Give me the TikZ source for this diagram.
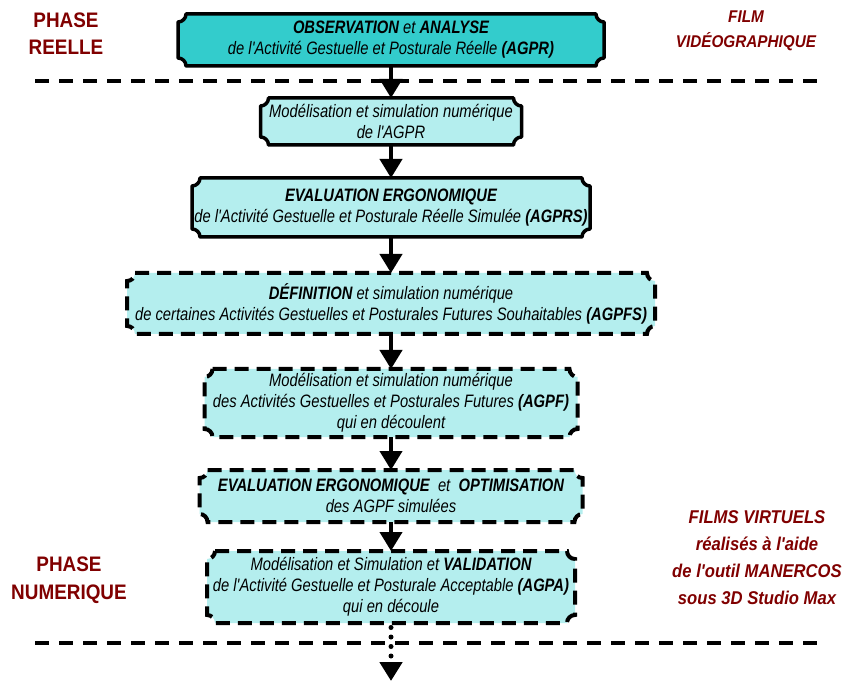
\documentclass[tikz,border=0pt]{standalone}
\usepackage{fontspec}
\setmainfont{Liberation Sans}
\newfontfamily\boxfont{Liberation Sans}[FakeStretch=0.82]
\newfontfamily\labfont{Liberation Sans}[FakeStretch=0.9]
\usetikzlibrary{arrows.meta,calc,backgrounds}
\definecolor{tealA}{HTML}{33CCCC}
\definecolor{lcyan}{HTML}{B4EEEE}
\definecolor{dred}{HTML}{800000}
\def\plr{8pt}
\newcommand\plaque[2]{%
  \draw[#2] ($(#1.north west)+(\plr,0)$) -- ($(#1.north east)+(-\plr,0)$)
    arc[start angle=180,end angle=270,radius=\plr]
    -- ($(#1.south east)+(0,\plr)$)
    arc[start angle=90,end angle=180,radius=\plr]
    -- ($(#1.south west)+(\plr,0)$)
    arc[start angle=0,end angle=90,radius=\plr]
    -- ($(#1.north west)+(0,-\plr)$)
    arc[start angle=270,end angle=360,radius=\plr] -- cycle;}
\tikzset{
  box/.style={inner sep=0pt, outer sep=0pt, align=center, text=black,
    font=\boxfont\itshape\fontsize{18}{21}\selectfont},
  solidb/.style={draw=black, line width=3.5pt, line join=round},
  dashb/.style={draw=black, line width=4pt, dash pattern=on 14pt off 8pt, fill=lcyan},
  arr/.style={line width=4pt, -{Triangle[width=22pt,length=19pt]}},
  sepline/.style={line width=3.5pt, dash pattern=on 14pt off 10pt},
  lab/.style={text=dred, align=center, inner sep=0pt},
}
\begin{document}
\begin{tikzpicture}[x=1pt,y=1pt]
\useasboundingbox (0,0) rectangle (846,681);
% boxes
\node[box, minimum width=426pt, minimum height=52pt] (b1) at (391,641)
  {\textbf{OBSERVATION} et \textbf{ANALYSE}\\ de l'Activité Gestuelle et Posturale Réelle \textbf{(AGPR)}};
\node[box, minimum width=261pt, minimum height=47pt] (b2) at (391,559.5)
  {Modélisation et simulation numérique\\ de l'AGPR};
\node[box, minimum width=398pt, minimum height=59pt] (b3) at (391,473.5)
  {\textbf{EVALUATION ERGONOMIQUE}\\ de l'Activité Gestuelle et Posturale Réelle Simulée \textbf{(AGPRS)}};
\node[box, minimum width=528pt, minimum height=61pt] (b4) at (391,377.5)
  {\textbf{DÉFINITION} et simulation numérique\\ de certaines Activités Gestuelles et Posturales Futures Souhaitables \textbf{(AGPFS)}};
\node[box, minimum width=373pt, minimum height=68pt] (b5) at (391,278)
  {Modélisation et simulation numérique\\ des Activités Gestuelles et Posturales Futures \textbf{(AGPF)}\\ qui en découlent};
\node[box, minimum width=383pt, minimum height=52pt] (b6) at (391,185)
  {\textbf{EVALUATION ERGONOMIQUE}\ \ et\ \ \textbf{OPTIMISATION}\\ des AGPF simulées};
\node[box, minimum width=368pt, minimum height=72pt] (b7) at (391,94)
  {Modélisation et Simulation et \textbf{VALIDATION}\\ de l'Activité Gestuelle et Posturale Acceptable \textbf{(AGPA)}\\ qui en découle};
\begin{scope}[on background layer]
  \plaque{b1}{solidb,fill=tealA}
  \plaque{b2}{solidb,fill=lcyan}
  \plaque{b3}{solidb,fill=lcyan}
  \plaque{b4}{dashb}
  \plaque{b5}{dashb}
  \plaque{b6}{dashb}
  \plaque{b7}{dashb}
\end{scope}
% separators
\coordinate (s1a) at (35,600);
\coordinate (s1b) at (822,600);
\coordinate (s2a) at (35,38);
\coordinate (s2b) at (822,38);
\draw[sepline] (s1a) -- (s1b);
\draw[sepline] (s2a) -- (s2b);
% arrows
\draw[arr] (b1.south) -- (b2.north);
\draw[arr] (b2.south) -- (b3.north);
\draw[arr] (b3.south) -- (b4.north);
\draw[arr] (b4.south) -- (b5.north);
\draw[arr] (b5.south) -- (b6.north);
\draw[arr] (b6.south) -- (b7.north);
\coordinate (dend) at (391,0);
\draw[line width=5pt, line cap=round, dash pattern=on 0pt off 9.5pt, dash phase=5pt,
  -{Triangle[width=22pt,length=19pt]}] (b7.south) -- (dend);
% labels
\node[lab, font=\labfont\bfseries\fontsize{21}{27}\selectfont] (l1) at (66,647) {PHASE\\REELLE};
\node[lab, font=\labfont\bfseries\fontsize{21}{28}\selectfont] (l2) at (69,101) {PHASE\\NUMERIQUE};
\node[lab, font=\labfont\bfseries\itshape\fontsize{17}{25}\selectfont] (l3) at (746,650) {FILM\\VIDÉOGRAPHIQUE};
\node[lab, font=\labfont\bfseries\itshape\fontsize{18.5}{27}\selectfont] (l4) at (757,123)
  {FILMS VIRTUELS\\réalisés à l'aide\\de l'outil MANERCOS\\sous 3D Studio Max};
\end{tikzpicture}
\end{document}
